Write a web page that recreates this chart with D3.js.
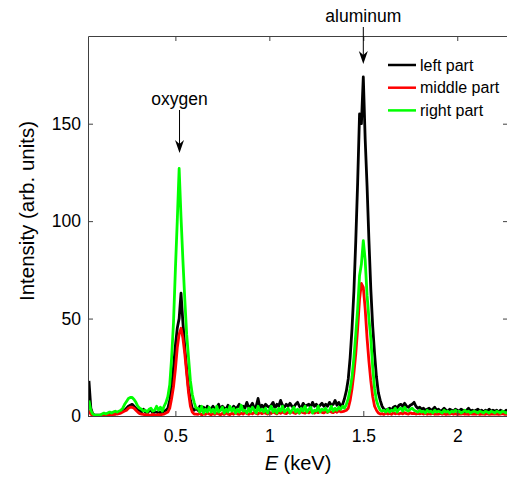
<!DOCTYPE html>
<html>
<head>
<meta charset="utf-8">
<script src="https://cdn.jsdelivr.net/npm/d3@7"></script>
<style>
    body { margin: 0; background: #fff; }
    text { font-family: "Liberation Sans", Arial, Helvetica, sans-serif; fill: #000; }
    .axis path, .axis line { stroke: #404040; }
    .axis text { font-size: 17.5px; fill: #000; }
    .line { fill: none; stroke-width: 2.8; stroke-linejoin: round; }
</style>
</head>
<body>
<svg id="chart"></svg>
<script>
// spectrum channels: 0.04 keV .. 2.27 keV, 0.01 keV apart
var eStart = 0.04, eStep = 0.01;

var leftPart = [18,4,1,0.5,0.5,0.5,
    0.5,0.5,1,1,0.5,1,1.5,1,1,1.5,
    2,2,2.5,3,4,5,5.5,6,5,4,
    3,3,2,3.5,2,1.5,2.5,3,1.5,2,
    2,1.5,2,1.5,2.5,3,4,8,15,25,
    36,45,50,63,48,35,24,14,8,4,
    3,4,3,5,3,4.5,3,5,4,3.5,
    5,3.5,4,6,3,5,4,3.5,5.5,4,
    3.5,5,4,4.5,6,3.5,5,4,7,4.5,
    5,6.5,4,5,9,4,5.5,4.5,6,5,
    4.5,5.5,7,4,6,5,8,5.5,4.5,6,
    5,6.5,5,4.5,6,7,5,4,6.5,5,
    5.5,6,4.5,7,5,6,4.5,5.5,6.5,5,
    6,5,7,5.5,6,8,5.5,7,5,6,
    9,13,19,30,45,64,90,120,155,150,
    174,142,118,90,65,46,32,20,12,8,
    5,3.5,3,3.5,4,3,4.5,5,4,5.5,
    6,5,6.5,5,4.5,5.5,6,7,5,4,
    4.5,3.5,4,3,3.5,4,3,3.5,4.5,3,
    3.5,2.5,3,4,3,2.5,3.5,3,2.5,3.5,
    3,2.5,3.5,3,2,3,4,2.5,3,2.5,
    3,3.5,2.5,3,2,3,2.5,3.5,2.5,3,
    2.5,3,2,3,2.5,2,3,2.5];

var middlePart = [3,1,0.3,0.3,0.3,0.3,
    0.3,0.3,0.5,0.3,0.5,0.5,0.5,0.8,1,1,
    1.2,1.5,2,2.5,3,4,4.5,4.5,4,3,
    2,1.2,1,0.8,0.5,0.8,0.5,0.5,0.8,0.5,
    0.5,0.8,0.5,0.8,1,1.5,2,4,9,15,
    24,35,42,45,40,32,22,12,5,2,
    1,1,0.8,1.5,0.5,1.2,0.8,1.5,1,0.6,
    1.2,0.8,1.5,1,0.6,1.3,0.8,1.6,1,0.7,
    1.4,0.9,1.7,1.1,0.8,1.5,1,1.8,1.2,0.9,
    1.6,1.1,1.8,1.3,1,1.9,1.2,1.7,1.4,1,
    1.8,1.3,2,1.5,1.1,1.9,1.4,2.1,1.5,1.2,
    2,1.5,2.2,1.6,1.3,2.1,1.5,2.3,1.7,1.4,
    2.2,1.6,2.4,1.8,1.5,2.3,1.7,2.5,1.9,1.6,
    2.4,1.8,2.6,2,1.7,2.5,1.9,2.7,2.1,2.3,
    2.5,3,4,8,14,22,32,45,60,68,
    66,55,40,28,18,10,5,3,1.5,1,
    1.2,0.8,1.5,1,1.3,0.9,1.6,1.1,1.4,1,
    1.5,1.1,1.7,1.2,1,1.6,1.2,1.4,1,1.3,
    1.1,1.4,1,1.3,0.9,1.2,1,1.4,0.9,1.1,
    1,1.3,0.9,1.2,0.8,1.1,1,1.3,0.9,1.2,
    0.8,1.1,1,1.2,0.9,1.1,0.8,1.2,1,1.1,
    0.9,1.2,0.8,1.1,1,0.9,1.2,0.8,1,1.1,
    0.9,1.1,0.8,1,1.2,0.9,1,0.8];

var rightPart = [8,3,1,0.5,0.5,0.5,
    0.5,1,1.5,1,1.5,2,1.5,2,2.5,2,
    2.5,3,4,6,7.5,9,9.5,9.5,8.5,7,
    5,4,3.5,2.5,3,2,3.5,4,2.5,3,
    5,3,4.5,2.5,5,7,10,16,30,48,
    75,100,127,102,80,60,42,30,18,11,
    7,4,4,2,5,1.5,3.5,2,4.5,2,
    3.5,1.5,5,2,3,4.5,1.5,3.5,2,5,
    2.5,4,1.5,3.5,2,5.5,2.5,3,1.5,4,
    2,4.5,3,1.5,5,2.5,3.5,2,4,1.5,
    3,5,2,3.5,1.5,4,2.5,5,2,3,
    4,1.5,3,4.5,2,3.5,1.5,4,2.5,5,
    2,3.5,4.5,1.5,3,2.5,5,2,3.5,3,
    4,2,3,5,2.5,4,3,4.5,3.5,5,
    4,6,9,14,20,30,42,55,72,78,
    90,80,62,50,40,25,14,8,5,3,
    2.5,3,2,3.5,2,3,2.5,4,2,3.5,
    4,2.5,4.5,3,2.5,3.5,4,3,2.5,2,
    3,2,2.5,1.5,3,2,2.5,1.5,3,2,
    2.5,2,1.5,3,2,2.5,1.5,2.5,2,3,
    2,2.5,1.5,2,3,2,2.5,1.5,2,2.5,
    2,1.5,2.5,2,1.5,2.5,2,1.5,2.5,2,
    1.5,2.5,2,1.5,2.5,2,1.5,2];

var seriesNames = ['left part', 'middle part', 'right part'];
var seriesColors = ['#000000', '#ff0000', '#00ff00'];
var xTicks = [0.5, 1, 1.5, 2];
var yTicks = [0, 50, 100, 150];
var peaks = [{label: 'oxygen', e: 0.522, top: 110, tip: 153},
             {label: 'aluminum', e: 1.5, top: 27, tip: 64}];

var W = 507, H = 481;
var margin = {top: 36, right: -1, bottom: 65, left: 88};
var width = W - margin.left - margin.right;
var height = H - margin.top - margin.bottom;

var svg = d3.select('#chart')
    .attr('width', W)
    .attr('height', H)
    .append('g')
    .attr('transform', `translate(${margin.left}, ${margin.top})`);

var xScale = d3.scaleLinear().domain([0.035, 2.27]).range([0, width]);
var yScale = d3.scaleLinear().domain([0, 195]).range([height, 0]);

svg.append('clipPath').attr('id', 'clip')
    .append('rect').attr('width', width).attr('height', height);

// Spectra
var line = d3.line()
    .x((d, i) => xScale(eStart + i * eStep))
    .y(d => yScale(d));

[leftPart, middlePart, rightPart].forEach((s, i) => {
    svg.append('path')
        .attr('class', 'line')
        .attr('clip-path', 'url(#clip)')
        .attr('stroke', seriesColors[i])
        .attr('d', line(s));
});

// Axes (ticks inward, box on top and right)
var fmt = d3.format('~g');
svg.append('g')
    .attr('class', 'axis')
    .attr('transform', `translate(0, ${height})`)
    .call(d3.axisBottom(xScale).tickValues(xTicks).tickFormat(fmt)
        .tickSizeInner(-5).tickSizeOuter(0).tickPadding(14));
svg.append('g')
    .attr('class', 'axis')
    .call(d3.axisTop(xScale).tickValues(xTicks).tickFormat('')
        .tickSizeInner(-5).tickSizeOuter(0));
svg.append('g')
    .attr('class', 'axis')
    .call(d3.axisLeft(yScale).tickValues(yTicks)
        .tickSizeInner(-5).tickSizeOuter(0).tickPadding(7));
svg.append('g')
    .attr('class', 'axis')
    .attr('transform', `translate(${width}, 0)`)
    .call(d3.axisRight(yScale).tickValues(yTicks).tickFormat('')
        .tickSizeInner(-5).tickSizeOuter(0));
svg.selectAll('.axis text').attr('font-family', null);

// Labels
svg.append('text')
    .attr('x', width / 2)
    .attr('y', height + 54)
    .attr('text-anchor', 'middle')
    .style('font-size', '20px')
    .html('<tspan font-style="italic">E</tspan> (keV)');

svg.append('text')
    .attr('transform', 'rotate(-90)')
    .attr('x', -height / 2 + 15)
    .attr('y', -54)
    .attr('text-anchor', 'middle')
    .style('font-size', '20.5px')
    .text('Intensity (arb. units)');

// Peak annotations
peaks.forEach(p => {
    var px = xScale(p.e);
    var top = p.top - margin.top, tip = p.tip - margin.top;
    svg.append('text')
        .attr('x', px)
        .attr('y', top - 5)
        .attr('text-anchor', 'middle')
        .style('font-size', '17.5px')
        .text(p.label);
    svg.append('line')
        .attr('x1', px).attr('x2', px)
        .attr('y1', top).attr('y2', tip - 6)
        .attr('stroke', '#000').attr('stroke-width', 1);
    svg.append('path')
        .attr('d', `M${px},${tip}L${px - 4.5},${tip - 13}L${px},${tip - 9}L${px + 4.5},${tip - 13}Z`)
        .attr('fill', '#000');
});

// Legend
seriesNames.forEach((name, i) => {
    var y = 65 + 22.7 * i - margin.top;
    svg.append('path')
        .attr('d', `M${388 - margin.left},${y}L${416 - margin.left},${y}`)
        .attr('stroke', seriesColors[i])
        .attr('stroke-width', 2.5);
    svg.append('text')
        .attr('x', 420 - margin.left)
        .attr('y', y + 5.5)
        .style('font-size', '16px')
        .text(name);
});
</script>
</body>
</html>
